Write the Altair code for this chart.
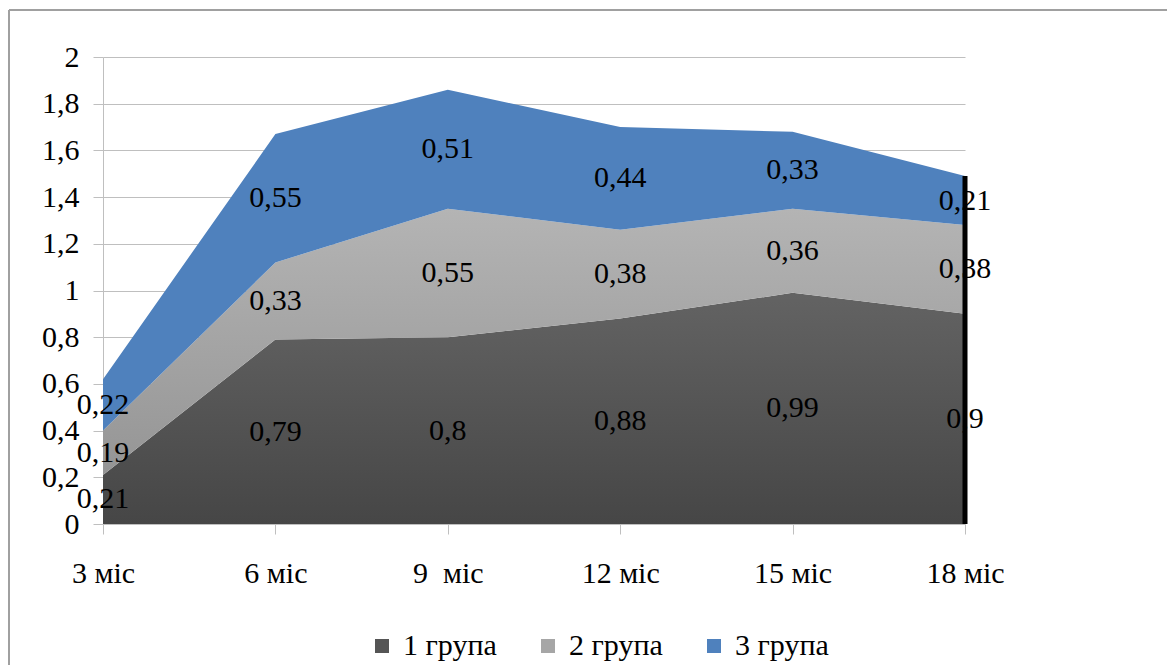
import altair as alt
import pandas as pd

# Categories and series values
months = ["3 міс", "6 міс", "9\u00a0 міс", "12 міс", "15 міс", "18 міс"]
groups = ["1 група", "2 група", "3 група"]
group1 = [0.21, 0.79, 0.80, 0.88, 0.99, 0.90]
group2 = [0.19, 0.33, 0.55, 0.38, 0.36, 0.38]
group3 = [0.22, 0.55, 0.51, 0.44, 0.33, 0.21]
y_ticks = [0, 0.2, 0.4, 0.6, 0.8, 1, 1.2, 1.4, 1.6, 1.8, 2]

rows = []
for order, (g, vals) in enumerate(zip(groups, [group1, group2, group3])):
    for m, v in zip(months, vals):
        rows.append({"month": m, "group": g, "order": order, "value": v})
df = pd.DataFrame(rows)

FONT = "Liberation Serif, Times New Roman, serif"
GRID = "#bfbfbf"
SIZE = 30

x_enc = alt.X(
    "month:N",
    sort=months,
    scale=alt.Scale(type="point", padding=0),
    axis=alt.Axis(
        title=None, labelAngle=0, labelFont=FONT, labelFontSize=SIZE,
        labelColor="black", tickSize=10, tickColor=GRID, domainColor=GRID,
        labelPadding=24, grid=False,
    ),
)
y_scale = alt.Scale(domain=[0, 2], nice=False)

base = alt.Chart(df).transform_stack(
    stack="value",
    groupby=["month"],
    as_=["y0", "y1"],
    sort=[alt.SortField("order", order="ascending")],
)


def vgrad(top, bottom):
    return alt.Gradient(
        gradient="linear",
        stops=[alt.GradientStop(offset=0, color=top),
               alt.GradientStop(offset=1, color=bottom)],
        x1=0, x2=0, y1=0, y2=1,
    )


fills = [vgrad("#636363", "#464646"), vgrad("#b4b4b4", "#959595"), "#4f81bd"]

# Invisible layer that carries the y axis and the legend
legend_layer = alt.Chart(df).mark_square(opacity=0).encode(
    x=x_enc,
    y=alt.Y("value:Q", scale=y_scale,
            axis=alt.Axis(
                title=None, values=y_ticks,
                labelExpr="replace(format(datum.value, '~g'), '.', ',')",
                labelFont=FONT, labelFontSize=SIZE, labelColor="black",
                tickSize=10, tickColor=GRID, domainColor=GRID,
                gridColor=GRID, labelPadding=14,
            )),
    color=alt.Color(
        "group:N",
        scale=alt.Scale(domain=groups, range=["#555555", "#a6a6a6", "#4f81bd"]),
        legend=alt.Legend(
            title=None, orient="none", direction="horizontal",
            legendX=264, legendY=574, symbolType="square", symbolSize=196,
            symbolOpacity=1, symbolStrokeWidth=0, labelFont=FONT,
            labelFontSize=SIZE, labelColor="black", labelOffset=6,
            columnPadding=36, padding=0,
        ),
    ),
)

areas = [
    base.transform_filter(alt.datum.group == g)
    .mark_area(fill=f, line=False)
    .encode(x=x_enc, y=alt.Y("y1:Q", scale=y_scale), y2="y0:Q")
    for g, f in zip(groups, fills)
]

labels = base.transform_calculate(
    mid="(datum.y0 + datum.y1) / 2",
    lab="replace(toString(datum.value), '.', ',')",
).mark_text(font=FONT, fontSize=SIZE, color="black", baseline="middle").encode(
    x=x_enc, y=alt.Y("mid:Q", scale=y_scale), text="lab:N"
)

# Vertical drop line at the last category
drop = (
    alt.Chart(df)
    .transform_filter(alt.datum.month == months[-1])
    .transform_aggregate(total="sum(value)", groupby=["month"])
    .mark_rule(color="black", strokeWidth=5)
    .encode(x=x_enc, y=alt.Y("total:Q", scale=y_scale), y2=alt.datum(0))
)

# Outer frame of the chart (left and top edges)
frame_left = alt.Chart(df).mark_rule(color="#a0a0a0", strokeWidth=2).encode(
    x=alt.value(-94), y=alt.value(-47), y2=alt.value(700)
)
frame_top = alt.Chart(df).mark_rule(color="#a0a0a0", strokeWidth=2).encode(
    x=alt.value(-94), x2=alt.value(1200), y=alt.value(-47)
)

chart = (
    alt.layer(legend_layer, *areas, drop, labels, frame_left, frame_top)
    .properties(
        width=862, height=467, autosize="none", background="white",
        padding={"left": 103, "top": 57, "right": 202, "bottom": 141},
        view=alt.ViewBackground(strokeWidth=0, strokeOpacity=0),
    )
    .configure_view(strokeWidth=0, strokeOpacity=0)
    .configure_axisX(grid=False)
)

chart.save("out.html", embed_options={"renderer": "svg", "actions": False})
